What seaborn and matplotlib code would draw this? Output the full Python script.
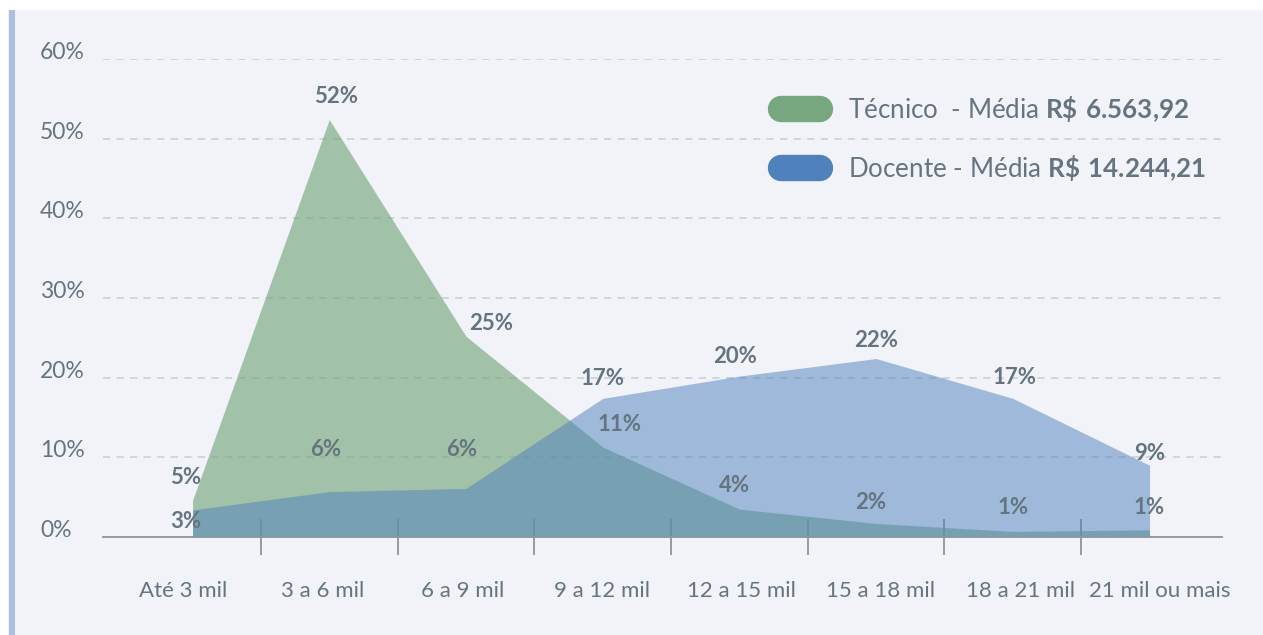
import matplotlib
matplotlib.use("Agg")
import matplotlib.pyplot as plt
from matplotlib.lines import Line2D
from matplotlib.patches import Rectangle
import seaborn as sns

# --- Data ---
CATEGORIES = ['Até 3 mil', '3 a 6 mil', '6 a 9 mil', '9 a 12 mil',
              '12 a 15 mil', '15 a 18 mil', '18 a 21 mil', '21 mil ou mais']
TECNICO = [4.6, 52.4, 25.2, 11.3, 3.5, 1.7, 0.7, 0.9]
DOCENTE = [3.4, 5.7, 6.1, 17.4, 20.2, 22.4, 17.4, 9.0]
LEGEND_LABELS = [r'Técnico  - Média $\mathbf{R\$\ 6.563{,}92}$',
                 r'Docente - Média $\mathbf{R\$\ 14.244{,}21}$']
Y_TICKS = [0, 10, 20, 30, 40, 50, 60]

# --- Style ---
GREEN = '#77a77e'
BLUE = '#4f81bd'
PANEL_BG = '#f1f3f8'
TEXT = '#65757f'
# label offsets in pixels (dx, dy) relative to each point
TEC_OFFSETS = [(-7, 23), (7, 23), (25, 13), (17, 22), (-5, 24), (-5, 21), (0, 24), (0, 22)]
DOC_OFFSETS = [(-7, -12), (-4, 42), (-4, 39), (0, 20), (-4, 20), (0, 18), (2, 21), (0, 12)]

sns.set_theme(style='white')
plt.rcParams['font.family'] = ['Lato', 'DejaVu Sans']
plt.rcParams['mathtext.fontset'] = 'custom'
plt.rcParams['mathtext.rm'] = 'Lato'
plt.rcParams['mathtext.bf'] = 'Lato:bold'

W, H = 1263, 635
fig = plt.figure(figsize=(W / 100, H / 100), dpi=100, facecolor='white')
fig.patches.append(Rectangle((8 / W, 0), 1, 1 - 10 / H, transform=fig.transFigure,
                             facecolor=PANEL_BG, edgecolor='none', zorder=-2))
fig.patches.append(Rectangle((9 / W, 0), 6 / W, 1 - 10 / H, transform=fig.transFigure,
                             facecolor='#abc0e0', edgecolor='none', zorder=-1))

ax = fig.add_axes([103 / W, 1 - 537 / H, (1222 - 103) / W, (537 - 59) / H])
ax.set_facecolor('none')

x = list(range(len(CATEGORIES)))
ax.fill_between(x, 0, TECNICO, color=GREEN, alpha=0.65, linewidth=0, zorder=2)
ax.fill_between(x, 0, DOCENTE, color=BLUE, alpha=0.5, linewidth=0, zorder=3)

for i, v in enumerate(TECNICO):
    ax.annotate(f'{v:.0f}%', (i, v), xytext=TEC_OFFSETS[i], textcoords='offset pixels',
                ha='center', va='center', fontsize=16, fontweight='bold', color=TEXT, zorder=5)
for i, v in enumerate(DOCENTE):
    ax.annotate(f'{v:.0f}%', (i, v), xytext=DOC_OFFSETS[i], textcoords='offset pixels',
                ha='center', va='center', fontsize=16, fontweight='bold', color=TEXT, zorder=5)

ax.set_xlim(-0.655, 7.53)
ax.set_ylim(0, 60)

ax.set_yticks(Y_TICKS)
ax.set_yticklabels([f'{t}%' for t in Y_TICKS])
ax.tick_params(axis='y', length=0, pad=45.4, labelsize=16.5, labelcolor=TEXT)
for lbl in ax.get_yticklabels():
    lbl.set_horizontalalignment('left')
    lbl.set_verticalalignment('baseline')
ax.yaxis.grid(True, color='#cdd3d8', linestyle=(0, (4, 3.5)), linewidth=1.3, zorder=0)
ax.set_axisbelow(True)

# category labels are spread a little wider than the data points
ax.set_xticks([i * 1.021 - 0.07 for i in x])
ax.set_xticklabels(CATEGORIES)
ax.set_xticks([i + 0.5 for i in x[:-1]], minor=True)
ax.tick_params(axis='x', which='major', length=0, pad=32, labelsize=16, labelcolor=TEXT)
ax.tick_params(axis='x', which='minor', direction='inout', length=26, width=1.2,
               color='#7f8c96', bottom=True)

for side in ['top', 'right', 'left']:
    ax.spines[side].set_visible(False)
ax.spines['bottom'].set_color('#8a97a0')
ax.spines['bottom'].set_linewidth(1.3)
ax.spines['bottom'].set_zorder(4)

handles = [Line2D([], [], color=GREEN, lw=19, solid_capstyle='round'),
           Line2D([], [], color=BLUE, lw=19, solid_capstyle='round')]
leg = ax.legend(handles, LEGEND_LABELS, loc='upper left',
                bbox_to_anchor=(781 / W, 1 - 94 / H), bbox_transform=fig.transFigure,
                frameon=False, fontsize=18.7, handlelength=1.5, handletextpad=1.07,
                labelspacing=1.13, borderpad=0, borderaxespad=0)
for t in leg.get_texts():
    t.set_color(TEXT)

fig.savefig('out.png', dpi=100, facecolor=fig.get_facecolor())
